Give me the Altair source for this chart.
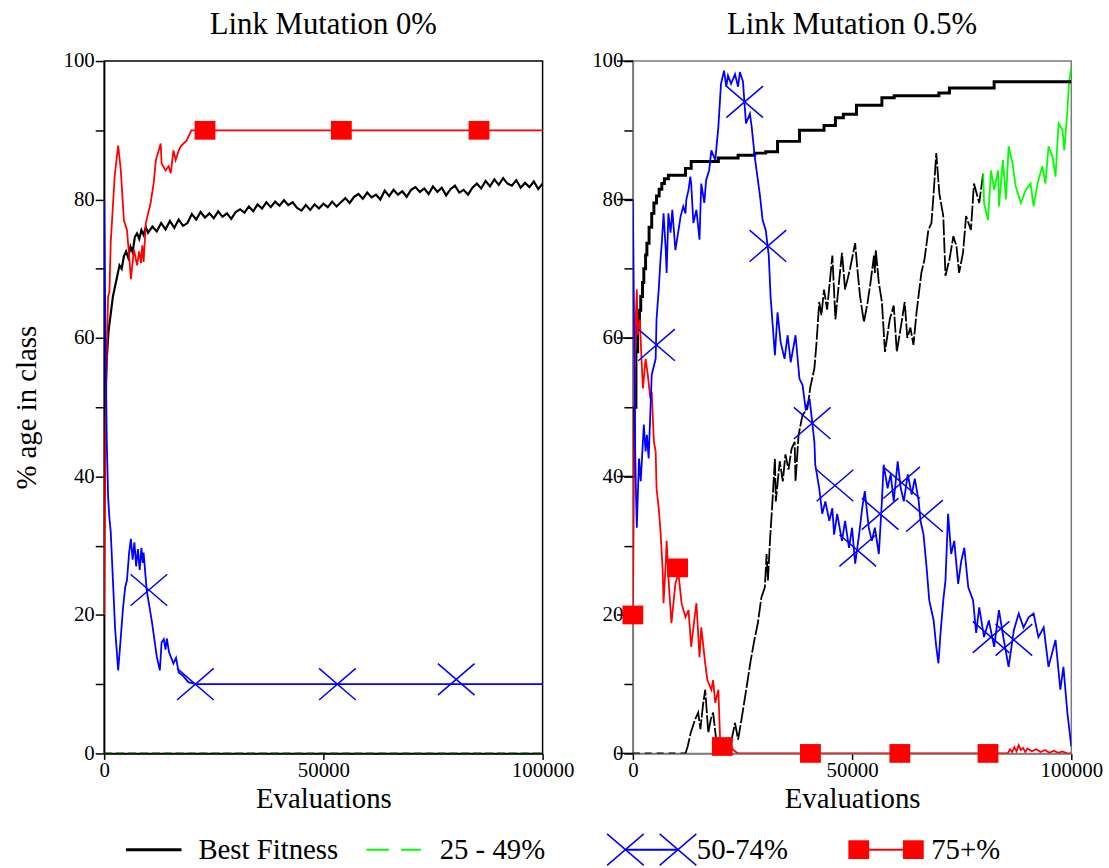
import altair as alt
import pandas as pd

FONT = "Liberation Serif"
BLACK, GREEN, BLUE, RED = "#000000", "#00ff00", "#0000ff", "#ff0000"

# ---------------------------------------------------------------
# Link Mutation 0%
# ---------------------------------------------------------------
lm0_best_x = [0, 300, 600, 1000, 1500, 2000, 2500, 3000, 3500, 4000, 4500,
              5000, 5500, 6000, 6500, 7000, 7500, 8000, 8500, 9000, 9500] + list(range(10000, 100001, 1000))
lm0_best_y = [40, 52, 57, 61, 63.5, 66, 67.5, 69, 70.5, 70, 71.8,
              72.5, 71.6, 73.2, 72.4, 74.6, 75.1, 74.3, 75.6, 74.9, 76.0,
              75.2, 76.1, 75.4, 76.6, 75.7, 76.9, 75.9, 77.1, 76.2, 76.6,
              77.9, 77.1, 78.2, 77.4, 78.0, 77.3, 78.3, 77.5, 78.0, 77.2,
              78.2, 78.6, 78.1, 79.0, 78.3, 79.3, 78.7, 79.6, 78.9, 79.7,
              79.1, 79.9, 79.2, 79.6, 78.8, 78.4, 79.2, 78.5, 79.3, 78.7,
              79.4, 78.9, 79.7, 79.0, 79.6, 80.2, 79.5, 80.4, 80.8, 80.1,
              81.0, 80.3, 80.7, 80.0, 81.3, 80.5, 81.4, 80.7, 81.2, 80.4,
              81.4, 81.8, 81.1, 81.6, 80.8, 81.9, 81.1, 81.7, 80.6, 81.5,
              82.0, 81.0, 81.4, 80.7, 81.7, 82.3, 81.6, 82.7, 81.9, 82.9,
              82.1, 83.1, 82.3, 82.0, 82.8, 81.7, 82.4, 81.8, 82.6, 81.5,
              82.3]

lm0_mid_x = [0, 100000]
lm0_mid_y = [0, 0]

lm0_hi_x = [0, 300, 600, 900, 1200, 1500, 2400, 3200, 3800, 4500, 5200, 5700, 6100,
            6800, 7500, 8000, 8400, 8700, 9000, 9500, 10600, 11300, 11800, 12900,
            13100, 14000, 14700, 15200, 15800, 16300, 17000, 17600, 18800, 19900, 100000]
lm0_hi_y = [20, 45, 58, 66, 66.6, 73.8, 83.4, 87.8, 84.2, 77, 75.6, 71.9, 68.5,
            72.8, 70.5, 72.5, 70.8, 73.4, 71, 76.6, 79.5, 82.4, 85.7, 88.1,
            85.2, 84.2, 84.8, 83.8, 87.1, 85.7, 87.1, 87.8, 88.5, 90, 90]

lm0_top_x = [0, 300, 600, 900, 1200, 1500, 2000, 2500, 3200, 3700, 4300, 4800, 5200,
             5700, 6100, 6500, 6900, 7300, 7700, 8100, 8500, 8800, 9000, 9700, 10900,
             12000, 12700, 13100, 13600, 14000, 14300, 14800, 15800, 16400, 17000,
             18000, 19200, 21000, 100000]
lm0_top_y = [80, 60, 45, 37, 34, 32, 25, 18, 12, 16, 21, 24, 25,
             29, 31, 28, 30.5, 27, 29.5, 26.5, 29.7, 27.5, 29, 23.6, 19,
             14, 12, 16, 16.5, 15, 16.6, 14.6, 13, 13.8, 11.7,
             11.2, 10.3, 10, 10]

lm0_x_marks_x = [10200, 20800, 53200, 80300]
lm0_x_marks_y = [23.6, 10, 10, 10.7]
lm0_sq_marks_x = [23000, 54100, 85500]
lm0_sq_marks_y = [90, 90, 90]

# ---------------------------------------------------------------
# Link Mutation 0.5%
# ---------------------------------------------------------------
lm5_best_x = [0, 300, 700, 1100, 1500, 1800, 2200, 2500, 2900, 3200,
              3700, 4300, 4800, 5400, 6000, 6600, 7200, 8100, 12000, 13300,
              19500, 24000, 27800, 30300, 33000, 38000, 43600, 46200, 48000, 51000,
              56800, 59600, 69800, 72200, 82400, 100000]
lm5_best_y = [40, 50, 58, 62, 64, 66, 68, 70, 72, 73.7,
              76, 78, 79.5, 80.5, 81.5, 82.3, 83, 83.5, 84.5, 85.5,
              86, 86.4, 86.7, 86.9, 88.4, 90, 90.7, 91.8, 92.3, 93.6,
              94.7, 95, 95.4, 96.1, 97, 97]

lm5_low_zero_x = [0, 12000]
lm5_low_zero_y = [0, 0]
lm5_low_x = [12000, 12500, 13200, 14200, 14900, 15400, 16000, 16500, 17200, 17800,
             18300, 19000, 20000, 21000, 22200, 23300, 24000, 24800, 25600, 26900,
             27600, 28500, 29300, 30100, 30500, 30800, 31300, 31800, 32400, 32600,
             33500, 34200, 34800, 35500, 36200, 36900, 37100, 37800, 38700, 39800,
             40500, 41400, 41900, 42500, 43000, 43600, 44300, 45500, 46200, 47000,
             47700, 48400, 49500, 50700, 51200, 51800, 52700, 53500, 54200, 55000,
             55200, 55400, 56100, 56800, 57500, 58600, 59500, 60200, 61300, 62000,
             62600, 63300, 64000, 64700, 65800, 66500, 67400, 68100, 68600, 69200,
             69900, 70800, 71300, 72200, 73100, 73800, 74400, 75300, 76000, 77100,
             77800, 79000, 79900]
lm5_low_y = [0, 1, 3, 4.9, 5.9, 3.5, 7, 9.2, 3, 5,
             5.9, 2, 1.5, 2, 1, 4.4, 2, 5, 8.2, 13.5,
             16, 18.8, 22.5, 24, 28.8, 25, 31, 36, 42.6, 36.4,
             42.2, 39.3, 43.2, 41, 44, 45, 39.3, 46, 48.9, 49.8,
             53, 55.6, 59.4, 65.2, 63.3, 67, 64.1, 71.9, 62.7, 68,
             72.3, 67, 69.9, 73.7, 70, 66.1, 62.3, 65, 68, 71.9,
             69.4, 72.7, 68, 65.2, 58, 62.7, 64.7, 58, 62.3, 65.2,
             60, 61.5, 59, 63.7, 69.4, 71.3, 75.6, 76.6, 80.9, 86.7,
             80.9, 77.6, 69, 71.3, 74.7, 73.3, 69.4, 72.3, 77.6, 75.6,
             82.3, 79.5, 83.8]
lm5_mid_x = [79900, 80100, 81000, 81700, 82400, 83300, 83500, 84400, 85100, 85700,
             86600, 87300, 88500, 89600, 90700, 91400, 92300, 93400, 94100, 94800,
             95700, 96400, 97100, 98000, 98400, 99100, 99500, 100000]
lm5_mid_y = [83.8, 79.5, 77, 84.2, 81.4, 84.2, 79, 85.7, 80, 87.7,
             85.2, 81.9, 79.5, 81.4, 82.3, 79, 82.3, 84.8, 82.3, 87.7,
             86.2, 83.3, 91, 90, 87.1, 92.8, 97.1, 99.1]

lm5_top_x = [0, 300, 500, 700, 900, 1400, 1800, 2500, 2900, 3200,
             3600, 4000, 4300, 5200, 5400, 5900, 6300, 6600, 7000, 7500,
             7700, 8100, 8600, 9000, 9700, 10200, 10900, 11500, 12000, 12200,
             12700, 13100, 13300, 13800, 14500, 15200, 15600, 16300, 16700, 17400,
             17900, 18800, 19500, 20100, 20800, 21300, 21700, 22400, 23300, 24000,
             24400, 25100, 25800, 26700, 27100, 27800, 28300, 29000, 29600, 30300,
             31000, 31400, 32400, 33000, 33700, 34600, 35300, 36000, 37100, 38000,
             38700, 39400, 40300, 40900, 41400, 41600, 42500, 43200, 43900, 44800,
             45500, 45900, 46600, 47700, 48400, 49300, 50000, 50700, 51600, 52300,
             52900, 53800, 54500, 55200, 56100, 56800, 57200, 58100, 58800, 59500,
             60400, 61100, 61800, 62700, 63600, 64300, 65200, 65600, 66300, 67000,
             67600, 68600, 69200, 69700, 70100, 70800, 71300, 71900, 72600, 73300,
             74200, 74900, 75600, 76500, 77600, 78300, 79000, 80100, 81200, 82400,
             83500, 84600, 85700, 86900, 88000, 89100, 90300, 91400, 92500, 93700,
             94800, 96400, 97500, 98200, 99100, 100000]
lm5_top_y = [80, 60, 45, 37.9, 32.6, 42.6, 39.3, 47.5, 43.6, 46,
             42.6, 49.4, 54.7, 57, 62.7, 67, 71.3, 73.7, 78, 72.7,
             69.4, 78, 75.2, 78.5, 72.7, 74.7, 77.6, 79, 78, 80,
             81.4, 83.3, 82.3, 76.6, 78.5, 74.2, 82.3, 79.5, 82.8, 84.2,
             87.1, 85.7, 90.5, 96.7, 98.6, 96.3, 97.9, 96.7, 98.1, 96.3,
             98.4, 97.1, 91, 92.4, 90.5, 86.2, 83.8, 80.5, 77, 75.6,
             71.9, 66.1, 57.5, 63.7, 59.4, 57, 60.4, 56.5, 60.4, 54.1,
             53.2, 49.8, 51.2, 47.9, 45, 41.7, 38.3, 34.6, 36.4, 33.6,
             35.4, 31.6, 34.6, 30.7, 33.6, 29.7, 32.6, 27.4, 31.6, 35.4,
             37.9, 32.6, 30.7, 32.6, 28.8, 36.4, 41.7, 38.3, 40.3, 36.4,
             42.2, 38.3, 36.4, 40.3, 37.4, 39.7, 36.4, 33.6, 31.6, 26.8,
             22.1, 19.2, 15.4, 13, 16.8, 22.1, 25, 34.6, 28.8, 30.7,
             24.5, 27.8, 29.7, 24, 22.1, 17.4, 21.1, 16.8, 19.2, 15.4,
             20.7, 16.4, 12.5, 17.8, 20.2, 18.2, 19.7, 20.2, 16.8, 18.2,
             12.5, 16.4, 9.2, 12.5, 5.9, 1]

lm5_hi_x = [0, 300, 600, 900, 1100, 1600, 2000, 2300, 2900, 3400,
            4000, 4300, 4800, 5200, 5400, 5900, 6300, 6600, 6800, 7000,
            7500, 7700, 8100, 8800, 9700, 10400, 11100, 12000, 12700, 13300,
            14000, 14500, 15200, 15600, 16500, 17000, 17900, 18300, 18800, 19500,
            19900, 20500, 21500, 22500, 23300, 24000, 85500, 86000, 86500, 87000,
            87500, 88000, 88500, 89000, 89500, 90000, 91000, 92000, 93000, 94000,
            95000, 96000, 97000, 98000, 99000, 100000]
lm5_hi_y = [20, 45, 62, 67, 60.4, 62.7, 56.5, 52.7, 57, 54.7,
            51.2, 52.2, 45, 43.6, 38.3, 35.4, 32.1, 28.8, 26.4, 21.7,
            27.4, 30.7, 25.4, 18.8, 24.5, 26, 21.7, 19.7, 20.7, 15.4,
            19.2, 21.7, 13.9, 18.2, 13, 10.6, 9.2, 10.6, 7.3, 9.2,
            2, 1.5, 1.2, 0.8, 0.3, 0, 0, 0.6, 0.2, 0.9,
            0.3, 1.2, 0.5, 0.8, 0.2, 0.7, 0.3, 0.6, 0.2, 0.5,
            0.1, 0.4, 0.1, 0.3, 0, 0]

lm5_x_marks_x = [5400, 25500, 30800, 40900, 46100, 51300, 56400, 61300, 66500, 81700, 86900]
lm5_x_marks_y = [59, 94.1, 73.3, 47.7, 38.7, 29.3, 34.6, 39.1, 34.3, 16.8, 16.4]
lm5_sq_marks_x = [0, 10200, 20400, 40500, 60900, 81000]
lm5_sq_marks_y = [20, 26.8, 1, 0, 0, 0]

# labelled y ticks, drawn longer on the right-hand panel
major_y_ticks = [0, 20, 40, 60, 80, 100]

# legend entries
legend_labels = ["Best Fitness", "25 - 49%", "50-74%", "75+%"]

# ---------------------------------------------------------------
X_PATH = "M-1,-0.86L1,0.86M-1,0.86L1,-0.86"
SQ_PATH = "M-1,-0.9L1,-0.9L1,0.9L-1,0.9Z"
PANEL_W, PANEL_H = 442, 698


def encodings(frame, y_title):
    x = alt.X("evals:Q",
              scale=alt.Scale(domain=[0, 100000], nice=False, zero=False),
              axis=alt.Axis(values=[0, 50000, 100000], format="d", title="Evaluations",
                            tickSize=6, labelPadding=0, titlePadding=5, labelFlush=False,
                            labelOverlap=False, grid=False, domainColor=frame,
                            labelFontSize=21, titleFontSize=29))
    yaxis = dict(values=list(range(0, 101, 10)),
                 labelExpr="datum.value % 20 === 0 ? datum.label : ''",
                 tickSize=9, labelPadding=1, labelOverlap=False, grid=False,
                 domainColor=frame, labelFontSize=21, titleFontSize=29, titlePadding=22)
    yaxis["title"] = y_title if y_title else None
    y = alt.Y("pct:Q", scale=alt.Scale(domain=[0, 100], nice=False), axis=alt.Axis(**yaxis))
    return x, y


def frame_of(xs, ys):
    return pd.DataFrame({"evals": xs, "pct": ys})


def line(xs, ys, enc, color, width, dash=None, interp="linear"):
    kw = dict(color=color, strokeWidth=width, interpolate=interp, clip=True)
    if dash:
        kw["strokeDash"] = dash
    return alt.Chart(frame_of(xs, ys)).mark_line(**kw).encode(x=enc[0], y=enc[1])


def crosses(xs, ys, enc):
    return alt.Chart(frame_of(xs, ys)).mark_point(
        shape=X_PATH, size=1369, filled=False, color=BLUE, strokeWidth=1.5, opacity=1
    ).encode(x=enc[0], y=enc[1])


def squares(xs, ys, enc):
    return alt.Chart(frame_of(xs, ys)).mark_point(
        shape=SQ_PATH, size=441, filled=True, color=RED, opacity=1
    ).encode(x=enc[0], y=enc[1])


enc0 = encodings(BLACK, "% age in class")
left = alt.layer(
    line(lm0_mid_x, lm0_mid_y, enc0, "#006400", 2, dash=[8, 4]),
    line(lm0_best_x, lm0_best_y, enc0, BLACK, 2.2),
    line(lm0_hi_x, lm0_hi_y, enc0, RED, 1.8),
    line(lm0_top_x, lm0_top_y, enc0, BLUE, 1.8),
    crosses(lm0_x_marks_x, lm0_x_marks_y, enc0),
    squares(lm0_sq_marks_x, lm0_sq_marks_y, enc0),
).properties(
    width=PANEL_W, height=PANEL_H,
    title=alt.Title("Link Mutation 0%"),
    view=alt.ViewBackground(stroke=BLACK, strokeWidth=1.5),
)

GRAY = "#7a7a7a"
enc5 = encodings(GRAY, None)
long_ticks = alt.Chart(pd.DataFrame({"pct": major_y_ticks})).mark_rule(
    color=BLACK, strokeWidth=1.5
).encode(y=enc5[1], x=alt.value(-16), x2=alt.value(0))

right = alt.layer(
    line(lm5_low_zero_x, lm5_low_zero_y, enc5, BLACK, 1.8, dash=[7, 5]),
    line(lm5_low_x, lm5_low_y, enc5, BLACK, 1.8, dash=[16, 2]),
    line(lm5_mid_x, lm5_mid_y, enc5, GREEN, 1.8),
    line(lm5_best_x, lm5_best_y, enc5, BLACK, 3, interp="step-after"),
    line(lm5_hi_x, lm5_hi_y, enc5, RED, 1.8),
    line(lm5_top_x, lm5_top_y, enc5, BLUE, 1.8),
    long_ticks,
    crosses(lm5_x_marks_x, lm5_x_marks_y, enc5),
    squares(lm5_sq_marks_x, lm5_sq_marks_y, enc5),
).properties(
    width=PANEL_W, height=PANEL_H,
    title=alt.Title("Link Mutation 0.5%"),
    view=alt.ViewBackground(stroke=GRAY, strokeWidth=1.5),
)

panels = alt.hconcat(left, right, spacing=91, bounds="flush")

# ---------------------------------------------------------------
# legend row: one slot per series, glyph then label
# ---------------------------------------------------------------
legend_df = pd.DataFrame({"slot": list(range(len(legend_labels))), "label": legend_labels})
LX = alt.X("slot:Q", scale=alt.Scale(domain=[0, 4], nice=False, zero=False), axis=None)
LX2 = alt.X2("slot:Q")
LY = alt.value(15)
base = alt.Chart(legend_df)
SHIFT = 22


def pick(name):
    return base.transform_filter(alt.datum.label == name)


legend_layers = [
    pick("Best Fitness").mark_rule(color=BLACK, strokeWidth=3, xOffset=SHIFT, x2Offset=SHIFT + 56)
    .encode(x=LX, x2=LX2, y=LY),
    pick("25 - 49%").mark_rule(color=GREEN, strokeWidth=2, strokeDash=[23, 12], xOffset=SHIFT, x2Offset=SHIFT + 55)
    .encode(x=LX, x2=LX2, y=LY),
    pick("50-74%").mark_rule(color=BLUE, strokeWidth=2, xOffset=SHIFT + 19, x2Offset=SHIFT + 72)
    .encode(x=LX, x2=LX2, y=LY),
    pick("50-74%").mark_point(shape=X_PATH, size=1369, filled=False, color=BLUE, strokeWidth=1.5,
                              opacity=1, xOffset=SHIFT + 19).encode(x=LX, y=LY),
    pick("50-74%").mark_point(shape=X_PATH, size=1369, filled=False, color=BLUE, strokeWidth=1.5,
                              opacity=1, xOffset=SHIFT + 72).encode(x=LX, y=LY),
    pick("75+%").mark_rule(color=RED, strokeWidth=2, xOffset=SHIFT + 12, x2Offset=SHIFT + 67)
    .encode(x=LX, x2=LX2, y=LY),
    pick("75+%").mark_point(shape=SQ_PATH, size=441, filled=True, color=RED, opacity=1,
                            xOffset=SHIFT + 12).encode(x=LX, y=LY),
    pick("75+%").mark_point(shape=SQ_PATH, size=441, filled=True, color=RED, opacity=1,
                            xOffset=SHIFT + 67).encode(x=LX, y=LY),
]
text_dx = {"Best Fitness": 73, "25 - 49%": 74, "50-74%": 91, "75+%": 85}
for name, dx in text_dx.items():
    legend_layers.append(
        pick(name).mark_text(align="left", baseline="middle", font=FONT, fontSize=29,
                             color=BLACK, dx=SHIFT + dx).encode(x=LX, y=LY, text="label:N")
    )

legend = alt.layer(*legend_layers).properties(
    width=969, height=30, view=alt.ViewBackground(stroke="transparent")
)

# the panel row counts as zero height in a flush layout, so the gap spans the plot height
chart = alt.vconcat(panels, legend, spacing=PANEL_H + 82, bounds="flush").properties(
    background="white",
    padding={"left": 11, "top": 5, "right": 5, "bottom": 0},
).configure(font=FONT).configure_axis(
    labelFont=FONT, titleFont=FONT, labelColor=BLACK, titleColor=BLACK,
    titleFontWeight="normal", tickColor=BLACK, tickWidth=1.5, domainWidth=1.5,
).configure_title(
    font=FONT, fontSize=31, fontWeight="normal", color=BLACK, anchor="middle",
    baseline="alphabetic", offset=9,
)

chart.save("out.html", embed_options={"renderer": "svg", "actions": False})
